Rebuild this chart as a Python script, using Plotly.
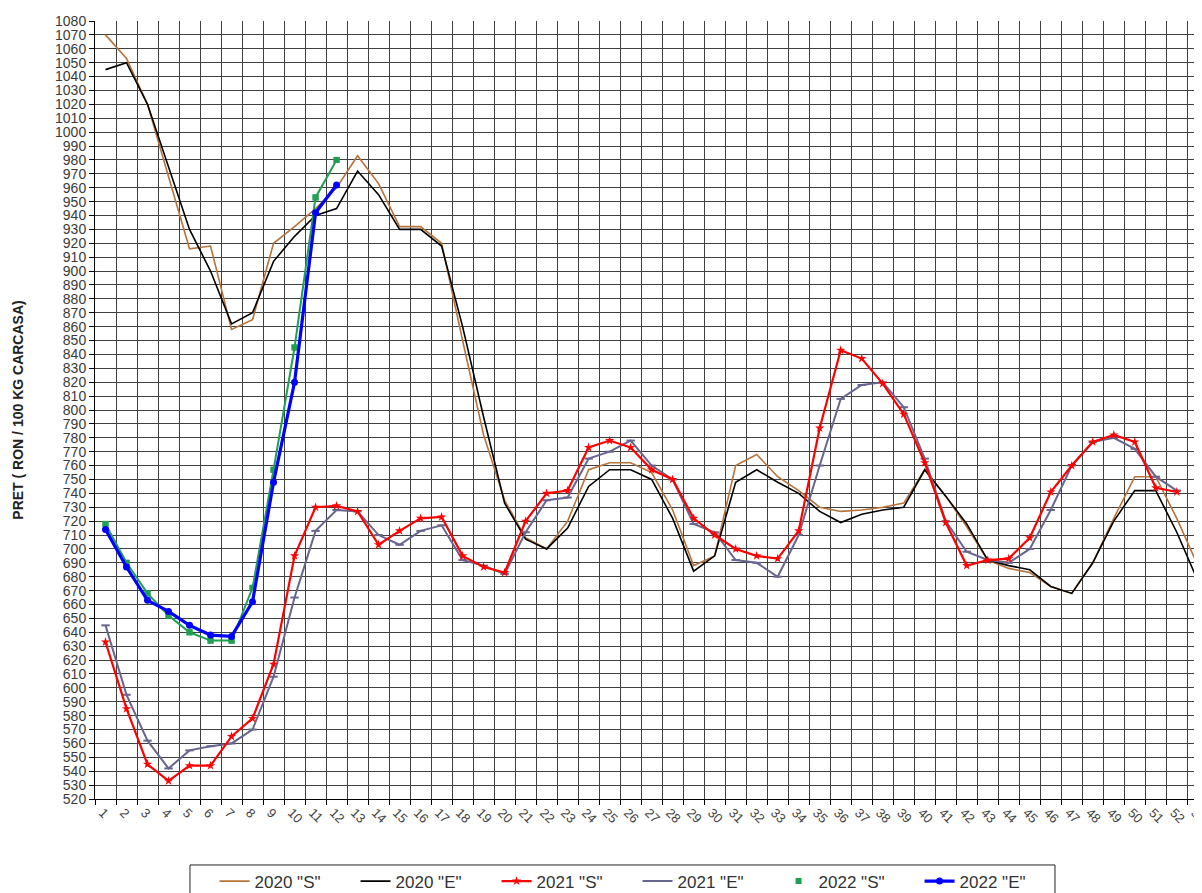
import plotly.graph_objects as go

weeks = [str(i) for i in range(1, 54)]

s2020_S = [1070, 1053, 1020, 968, 916, 918, 858, 865, 920, 932, 945, 960, 983, 963, 932, 932, 920, 850, 782, 735,
           708, 700, 720, 757, 762, 762, 755, 728, 688, 695, 760, 768, 752, 742, 730, 727, 728, 730, 733, 757,
           738, 716, 692, 686, 683, 673, 668, 690, 722, 752, 752, 722, 688]
s2020_E = [1045, 1050, 1020, 975, 930, 900, 862, 870, 907, 925, 940, 945, 972, 955, 930, 930, 918, 860, 795, 733,
           707, 700, 715, 745, 757, 757, 750, 722, 684, 695, 748, 757, 748, 740, 727, 719, 725, 728, 730, 757,
           738, 718, 692, 688, 685, 673, 668, 690, 720, 742, 742, 712, 677]
s2021_S = [633, 585, 545, 533, 544, 544, 565, 578, 617, 695, 730, 731, 727, 703, 713, 722, 723, 695, 687, 683,
           720, 740, 742, 773, 778, 773, 757, 750, 722, 710, 700, 695, 693, 713, 787, 843, 837, 819, 797, 762,
           719, 688, 692, 693, 708, 741, 760, 777, 782, 777, 744, 741]
s2021_E = [645, 595, 562, 542, 555, 558, 560, 570, 608, 665, 713, 728, 727, 710, 703, 713, 717, 692, 688, 682,
           712, 735, 737, 765, 770, 778, 760, 750, 718, 712, 692, 690, 680, 710, 760, 808, 818, 820, 802, 765,
           720, 698, 692, 690, 700, 728, 760, 777, 780, 772, 752, 742]
s2022_S = [718, 690, 668, 652, 640, 634, 634, 672, 757, 845, 953, 980]
s2022_E = [714, 687, 663, 655, 645, 638, 637, 662, 748, 820, 942, 962]

series_names = ['2020 "S"', '2020 "E"', '2021 "S"', '2021 "E"', '2022 "S"', '2022 "E"']

fig = go.Figure()

fig.add_trace(go.Scatter(x=weeks[:len(s2020_S)], y=s2020_S, name=series_names[0], mode="lines",
                         line=dict(color="#B8733A", width=1.6), legendrank=1))
fig.add_trace(go.Scatter(x=weeks[:len(s2020_E)], y=s2020_E, name=series_names[1], mode="lines",
                         line=dict(color="#000000", width=1.6), legendrank=2))
fig.add_trace(go.Scatter(x=weeks[:len(s2021_E)], y=s2021_E, name=series_names[3], mode="lines+markers",
                         line=dict(color="#66668F", width=2),
                         marker=dict(symbol="line-ew-open", size=6, line=dict(color="#66668F", width=2)),
                         legendrank=4))
fig.add_trace(go.Scatter(x=weeks[:len(s2021_S)], y=s2021_S, name=series_names[2], mode="lines+markers",
                         line=dict(color="#FF0000", width=2.2),
                         marker=dict(symbol="star", size=7, color="#FF0000"), legendrank=3))
fig.add_trace(go.Scatter(x=weeks[:len(s2022_S)], y=s2022_S, name=series_names[4], mode="lines+markers",
                         line=dict(color="#1FA050", width=2), marker=dict(symbol="square", size=6, color="#1FA050"),
                         showlegend=False))
fig.add_trace(go.Scatter(x=weeks[:len(s2022_S)], y=s2022_S, name=series_names[4], mode="markers",
                         marker=dict(symbol="square", size=6, color="#1FA050"), legendrank=5))
fig.add_trace(go.Scatter(x=weeks[:len(s2022_E)], y=s2022_E, name=series_names[5], mode="lines+markers",
                         line=dict(color="#0000FF", width=3.2), marker=dict(symbol="circle", size=7, color="#0000FF"),
                         legendrank=6))

grid_col = "#404040"
fig.update_layout(
    width=1194, height=885,
    margin=dict(l=87, r=0, t=13, b=94, autoexpand=False),
    paper_bgcolor="white", plot_bgcolor="white",
    font=dict(family="Liberation Sans, Arial, sans-serif", color="#333333", size=14),
    showlegend=True,
    legend=dict(orientation="h", x=0.108, y=-0.083, xanchor="left", yanchor="top",
                borderwidth=0, bgcolor="rgba(0,0,0,0)",
                font=dict(size=17, color="#333333"), entrywidth=96, entrywidthmode="pixels",
                traceorder="normal"),
    shapes=[dict(type="rect", xref="paper", yref="paper", x0=0.0858, x1=0.8672, y0=-0.0848, y1=-0.25,
                 line=dict(color="#222222", width=1), fillcolor="rgba(0,0,0,0)", layer="below")],
)
fig.update_xaxes(
    type="category", categoryorder="array", categoryarray=weeks,
    range=[-0.5, 52.2], tickson="boundaries", ticks="outside", ticklen=5, tickcolor="#000",
    showgrid=True, gridcolor=grid_col, gridwidth=1,
    showline=True, linecolor="#000", linewidth=1,
    tickangle=45, tickfont=dict(size=13, color="#444444"), ticklabelshift=-3, fixedrange=True,
)
fig.update_yaxes(
    range=[520, 1080], dtick=10, tick0=520, ticks="outside", ticklen=5, tickcolor="#000",
    showgrid=True, gridcolor=grid_col, gridwidth=1,
    showline=True, linecolor="#000", linewidth=1,
    tickfont=dict(size=14, color="#3a3a3a"),
    title=dict(text="<b>PRET ( RON / 100 KG CARCASA)</b>", font=dict(size=14, color="#222222"), standoff=28),
    zeroline=False,
)

fig.write_html("out.html")
